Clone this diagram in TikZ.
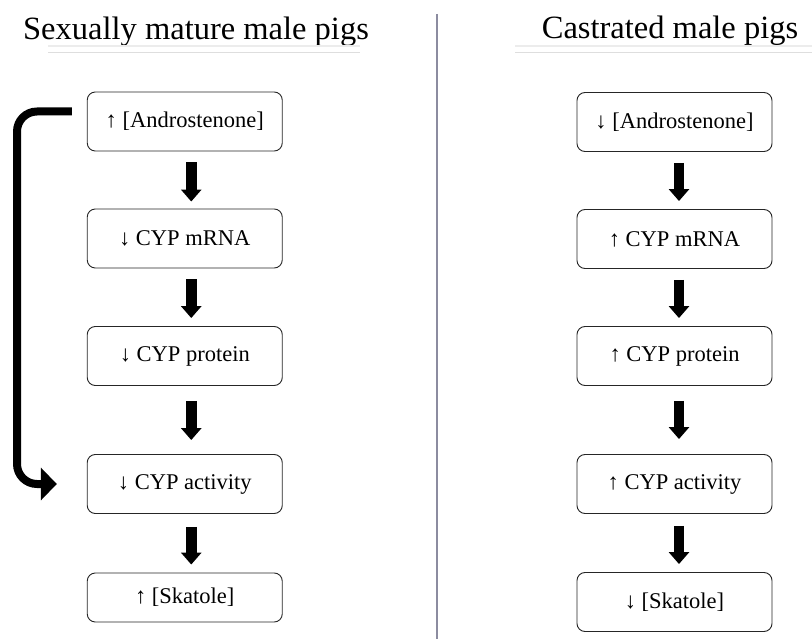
\documentclass[tikz,border=0pt]{standalone}
\usepackage{fontspec}
\setmainfont{Liberation Serif}
\usetikzlibrary{arrows.meta}
\definecolor{divider}{RGB}{140,140,160}
\definecolor{ulineA}{RGB}{236,236,236}
\definecolor{ulineB}{RGB}{222,222,222}
\tikzset{
  box/.style={draw=black!85, line width=0.9pt, rounded corners=8pt, fill=white,
    minimum width=195pt, minimum height=59pt, inner sep=0pt,
    font=\fontsize{22.5}{26}\selectfont},
  shortbox/.style={box, minimum height=49pt},
  titletext/.style={font=\fontsize{32.5}{38}\selectfont, anchor=base, inner sep=0pt},
  blk/.style={line width=10.5pt, -{Triangle[width=20pt,length=12pt]}},
  fb/.style={line width=8pt, rounded corners=20pt, -{Triangle[width=32pt,length=16pt]}},
}
\begin{document}
\begin{tikzpicture}[x=1pt,y=-1pt]
\useasboundingbox (0,0) rectangle (812,639);
% titles
\node[titletext] (tl) at (196,40) {Sexually mature male pigs};
\node[titletext] (tr) at (670,39) {Castrated male pigs};
\draw[ulineA, line width=1.6pt] (48,46) -- (360,46);
\draw[ulineB, line width=1pt] (48,53) -- (360,53);
\draw[ulineA, line width=1.6pt] (515,46) -- (812,46);
\draw[ulineB, line width=1pt] (515,53) -- (812,53);
% divider
\draw[divider, line width=1.2pt] (437,14) -- (437,639);
% left column
\node[box] (a1) at (184.75,121.5) {↑ [Androstenone]};
\node[box] (a2) at (184.75,238.5) {↓ CYP mRNA};
\node[box] (a3) at (184.75,356) {↓ CYP protein};
\node[box] (a4) at (184.75,484) {↓ CYP activity};
\node[shortbox] (a5) at (184.75,597.5) {↑ [Skatole]};
% right column
\node[box] (b1) at (674.5,122) {↓ [Androstenone]};
\node[box] (b2) at (674.5,239) {↑ CYP mRNA};
\node[box] (b3) at (674.5,356) {↑ CYP protein};
\node[box] (b4) at (674.5,484) {↑ CYP activity};
\node[box] (b5) at (674.5,602) {↓ [Skatole]};
% left arrows
\draw[blk, shorten <=11pt, shorten >=7pt] ([xshift=6.5pt]a1.south) -- ([xshift=6.5pt]a2.north);
\draw[blk, shorten <=11pt, shorten >=8pt] ([xshift=6.5pt]a2.south) -- ([xshift=6.5pt]a3.north);
\draw[blk, shorten <=15pt, shorten >=14pt] ([xshift=6.5pt]a3.south) -- ([xshift=6.5pt]a4.north);
\draw[blk, shorten <=13pt, shorten >=8pt] ([xshift=6.5pt]a4.south) -- ([xshift=6.5pt]a5.north);
% right arrows
\draw[blk, shorten <=11pt, shorten >=8pt] ([xshift=4.5pt]b1.south) -- ([xshift=4.5pt]b2.north);
\draw[blk, shorten <=11pt, shorten >=8pt] ([xshift=4.5pt]b2.south) -- ([xshift=4.5pt]b3.north);
\draw[blk, shorten <=15pt, shorten >=15pt] ([xshift=4.5pt]b3.south) -- ([xshift=4.5pt]b4.north);
\draw[blk, shorten <=12pt, shorten >=8pt] ([xshift=4.5pt]b4.south) -- ([xshift=4.5pt]b5.north);
% feedback arrow
\coordinate (fbx) at (17,484);
\draw[fb] ([xshift=-15pt,yshift=10pt]a1.west) -| (fbx) -- ([xshift=-30pt]a4.west);
\end{tikzpicture}
\end{document}
